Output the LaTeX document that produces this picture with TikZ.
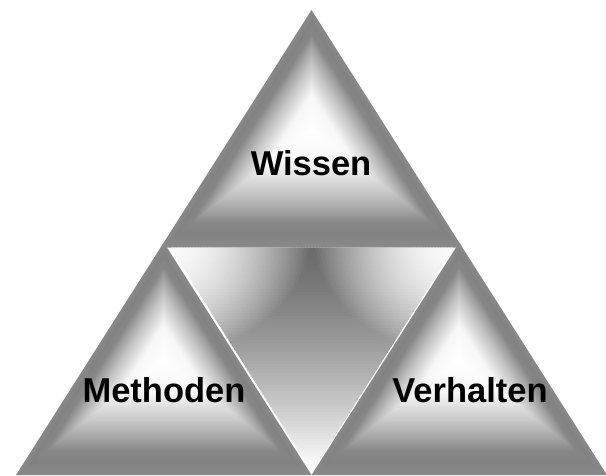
\documentclass[tikz,border=0pt]{standalone}
\usepackage{fontspec}
\setmainfont{Liberation Sans}
\usetikzlibrary{calc}
\tikzset{
  lbl/.style={font=\fontsize{34.5}{40}\selectfont\bfseries, text=black, inner sep=0pt, anchor=base},
}
\newcommand\pyrfill[4]{%
  \foreach \pyri in {60,59,...,1}{%
    \pgfmathsetmacro\pyrt{\pyri/60}%
    \pgfmathsetmacro\pyrg{\pyrt>0.9 ? 0.51+(\pyrt-0.9)*0.3 : (\pyrt>0.8 ? 0.53-(\pyrt-0.8)*0.2 : (\pyrt>0.69 ? 0.65-(\pyrt-0.69)*1.0909 : (\pyrt>0.56 ? 0.77-(\pyrt-0.56)*0.923 : (\pyrt>0.3 ? 0.97-(\pyrt-0.3)*0.769 : 0.97+(0.3-\pyrt)*0.1))))}%
    \definecolor{pyrc}{gray}{\pyrg}%
    \fill[pyrc] ($(#4)!\pyrt!(#1)$) -- ($(#4)!\pyrt!(#2)$) -- ($(#4)!\pyrt!(#3)$) -- cycle;
  }}
\begin{document}
\begin{tikzpicture}[x=1pt,y=-1pt]
\useasboundingbox (0,0) rectangle (606,475);
\clip (0,0) rectangle (606,475);
\coordinate (A) at (311.5,10);
\coordinate (L) at (16,475);
\coordinate (R) at (607,475);
\coordinate (ML) at (163.75,242.5);
\coordinate (MR) at (459.25,242.5);
\coordinate (MB) at (311.5,475);
\coordinate (WL) at (160.6,247.5);
\coordinate (WR) at (462.4,247.5);
\coordinate (CM) at (163.75,358.75);
\coordinate (CV) at (459.25,358.75);
\coordinate (CW) at (311.5,128.75);
\pyrfill{L}{ML}{MB}{CM}
\pyrfill{MB}{MR}{R}{CV}
\pyrfill{A}{WL}{WR}{CW}
\coordinate (IL) at (170,247.5);
\coordinate (IR) at (454,247.5);
\coordinate (IB) at (312,472);
\begin{scope}
\clip[rounded corners=2.5pt] (IL) -- (IR) -- (IB) -- cycle;
\foreach \yy in {247,250,...,472}{
  \pgfmathtruncatemacro\xs{170+(\yy-247.5)*0.6325-3}
  \pgfmathtruncatemacro\xe{454-(\yy-247.5)*0.6325+3}
  \pgfmathtruncatemacro\xsn{\xs+3}
  \pgfmathsetmacro\iu{max(0.001,(\yy+1.5-250)/220)}
  \pgfmathsetmacro\ib{min(1,0.42+0.58*pow(\iu,1.3))}
  \foreach \xx in {\xs,\xsn,...,\xe}{
    \pgfmathsetmacro\dl{max(0.5,veclen(\xx+1.5-170,\yy+1.5-247.5))}
    \pgfmathsetmacro\dr{max(0.5,veclen(\xx+1.5-454,\yy+1.5-247.5))}
    \pgfmathsetmacro\ic{max(\ib,0.98-0.56*pow(\dl/140,1.8),0.98-0.56*pow(\dr/140,1.8))}
    \definecolor{innc}{gray}{\ic}
    \fill[innc] (\xx,\yy) rectangle ++(3.5,3.5);
  }
}
\end{scope}
\node[lbl] (wissen) at (311,175) {Wissen};
\node[lbl] (methoden) at (164,402) {Methoden};
\node[lbl] (verhalten) at (470,402) {Verhalten};
\end{tikzpicture}
\end{document}
